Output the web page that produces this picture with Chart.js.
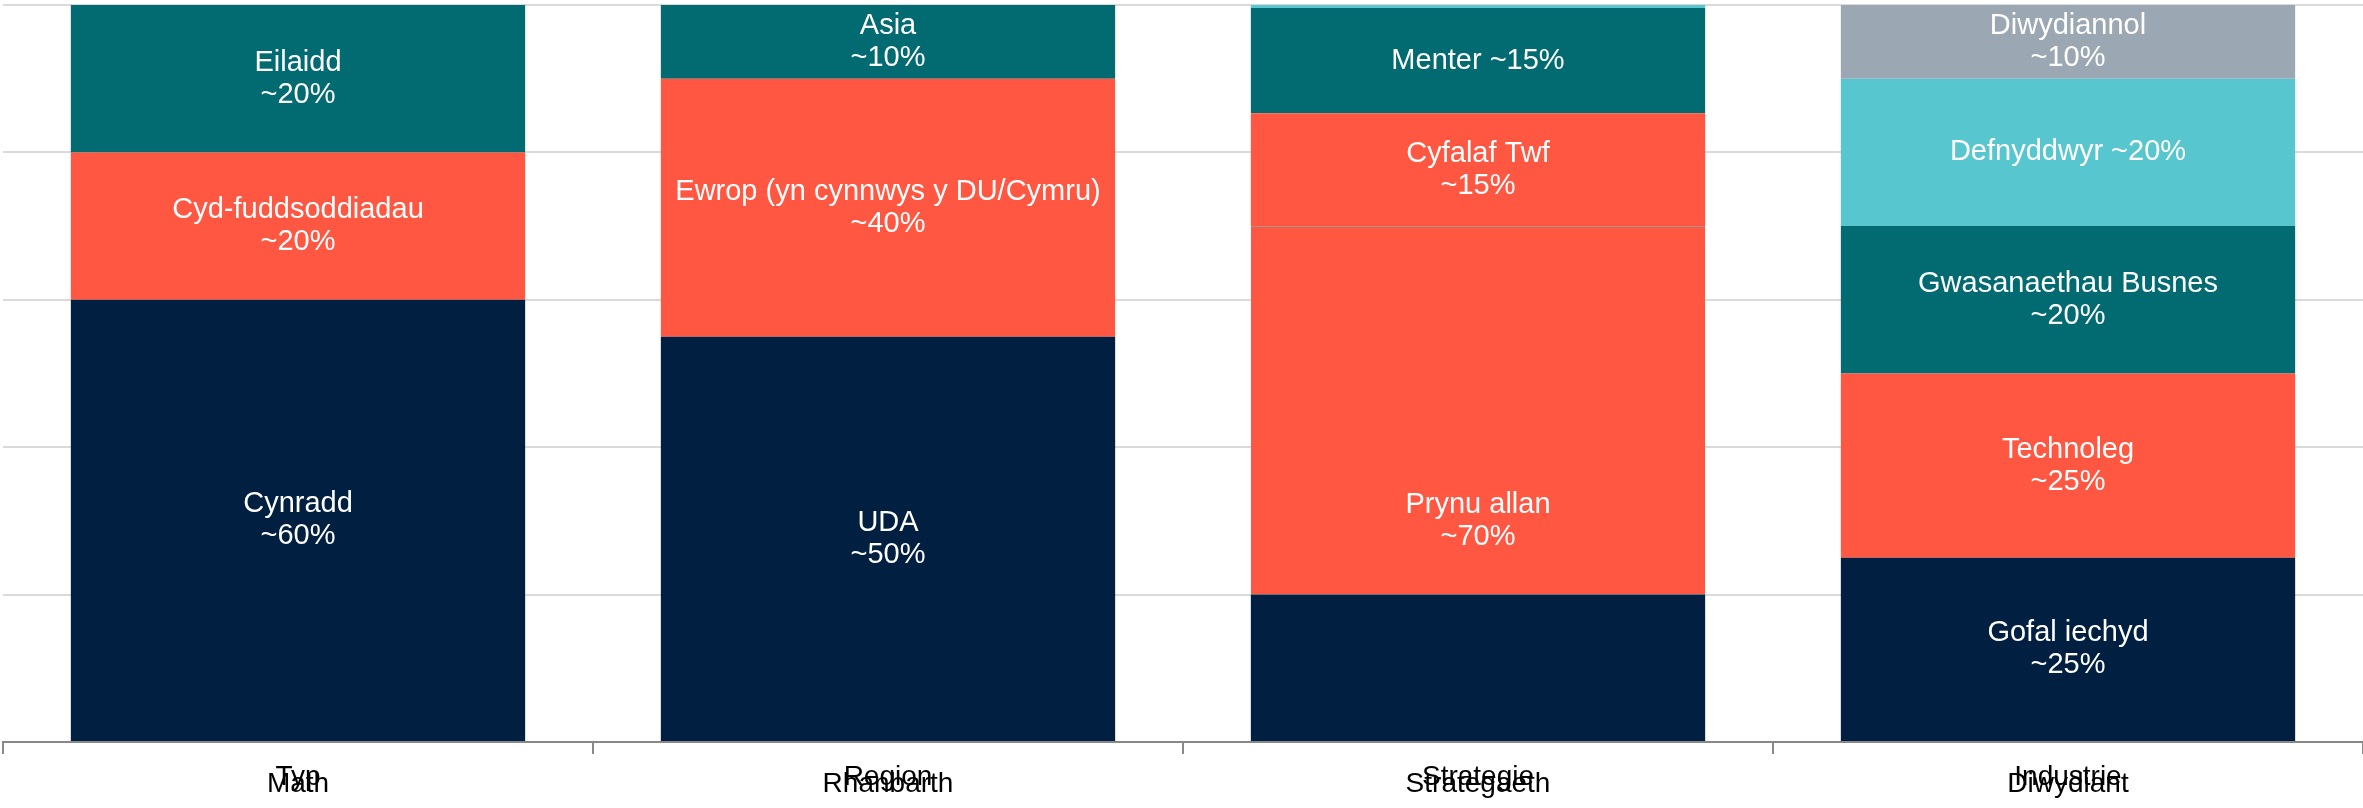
<!DOCTYPE html>
<html>
<head>
<meta charset="utf-8">
<script src="https://cdn.jsdelivr.net/npm/chart.js@4/dist/chart.umd.min.js"></script>
<style>
  html, body { margin: 0; padding: 0; background: #ffffff; }
  #wrap { width: 2363px; height: 808px; position: relative; }
</style>
</head>
<body>
<div id="wrap"><canvas id="portfolio"></canvas></div>
<script>
"use strict";
// ========== DATA ========== //
const categories = ['Math', 'Rhanbarth', 'Strategaeth', 'Diwydiant'];
const categoriesAlt = ['Typ', 'Region', 'Strategie', 'Industrie'];
const yTicks = [0, 20, 40, 60, 80, 100];

// segments stacked from the bottom up
const seg1Values = [60, 55, 20, 25];
const seg1Labels = ['Cynradd\n~60%', 'UDA\n~50%', '', 'Gofal iechyd\n~25%'];
const seg2Values = [20, 35, 50, 25];
const seg2Labels = ['Cyd-fuddsoddiadau\n~20%', 'Ewrop (yn cynnwys y DU/Cymru)\n~40%', 'Prynu allan\n~70%', 'Technoleg\n~25%'];
const seg3Values = [20, 10, 15.3, 20];
const seg3Labels = ['Eilaidd\n~20%', 'Asia\n~10%', 'Cyfalaf Twf\n~15%', 'Gwasanaethau Busnes\n~20%'];
const seg4Values = [0, 0, 14.3, 20];
const seg4Labels = ['', '', 'Menter ~15%', 'Defnyddwyr ~20%'];
const seg5Values = [0, 0, 0.4, 10];
const seg5Labels = ['', '', '', 'Diwydiannol\n~10%'];

// ========== COLOURS ========== //
const NAVY = '#011f41';
const RED = '#ff5741';
const TEAL = '#026a71';
const LIGHT_TEAL = '#58c6ce';
const GREY = '#9ba8b3';
const FONT = "'Liberation Sans', Arial, sans-serif";

// label drawn inside each segment, centred on it (or on an anchor value)
const segmentLabels = {
  id: 'segmentLabels',
  afterDatasetsDraw(chart, args, opts) {
    const ctx = chart.ctx;
    const yScale = chart.scales.y;
    ctx.save();
    ctx.fillStyle = opts.color;
    ctx.font = opts.size + 'px ' + FONT;
    ctx.textAlign = 'center';
    ctx.textBaseline = 'middle';
    chart.data.datasets.forEach(function(ds, di) {
      chart.getDatasetMeta(di).data.forEach(function(bar, i) {
        let text = ds.segLabels[i];
        if (!text) return;
        let lines = text.split('\n');
        let cy = (bar.y + bar.base) / 2;
        let anchor = opts.anchors[di + ':' + i];
        if (anchor !== undefined) cy = yScale.getPixelForValue(anchor);
        let lh = opts.size * opts.lineHeight;
        let y0 = cy - (lines.length - 1) * lh / 2;
        lines.forEach(function(line, k) {
          ctx.fillText(line, bar.x, y0 + k * lh);
        });
      });
    });
    ctx.restore();
  }
};

function makeSet(name, values, labels, colors) {
  return {
    label: name,
    data: values,
    segLabels: labels,
    backgroundColor: colors,
    borderWidth: 0,
    barPercentage: 0.77,
    categoryPercentage: 1.0
  };
}

// thin seam on top of the buy-out segment, as in the original
let seg2Set = makeSet('seg2', seg2Values, seg2Labels, [RED, RED, RED, RED]);
seg2Set.borderWidth = [0, 0, { top: 1, left: 0, right: 0, bottom: 0 }, 0];
seg2Set.borderColor = 'rgba(140,120,115,0.8)';

let chart = new Chart(document.querySelector('#portfolio'), {
  type: 'bar',
  data: {
    labels: categories.map(function(c, i) { return [categoriesAlt[i], c]; }),
    datasets: [
      makeSet('seg1', seg1Values, seg1Labels, [NAVY, NAVY, NAVY, NAVY]),
      seg2Set,
      makeSet('seg3', seg3Values, seg3Labels, [TEAL, TEAL, RED, TEAL]),
      makeSet('seg4', seg4Values, seg4Labels, [TEAL, TEAL, TEAL, LIGHT_TEAL]),
      makeSet('seg5', seg5Values, seg5Labels, [LIGHT_TEAL, LIGHT_TEAL, LIGHT_TEAL, GREY])
    ]
  },
  options: {
    responsive: true,
    maintainAspectRatio: false,
    animation: false,
    layout: { padding: { left: 3, right: 0, top: 5, bottom: 0 } },
    plugins: {
      legend: { display: false },
      tooltip: { enabled: false },
      segmentLabels: { color: '#ffffff', size: 29, lineHeight: 1.1, anchors: { '1:2': 30 } }
    },
    scales: {
      x: {
        stacked: true,
        grid: {
          offset: true,
          drawOnChartArea: false,
          drawTicks: true,
          tickLength: 12,
          color: '#888888',
          lineWidth: 2
        },
        border: { display: true, color: '#888888', width: 2 },
        ticks: {
          color: '#000000',
          padding: 20,
          maxRotation: 0,
          font: { family: FONT, size: 28, lineHeight: 0.25 }
        }
      },
      y: {
        stacked: true,
        min: 0,
        max: 100,
        afterBuildTicks: function(scale) {
          scale.ticks = yTicks.map(function(v) { return { value: v }; });
        },
        grid: { color: '#dadada', lineWidth: 2, drawTicks: false },
        border: { display: false },
        ticks: { display: false }
      }
    }
  },
  plugins: [segmentLabels]
});
</script>
</body>
</html>
